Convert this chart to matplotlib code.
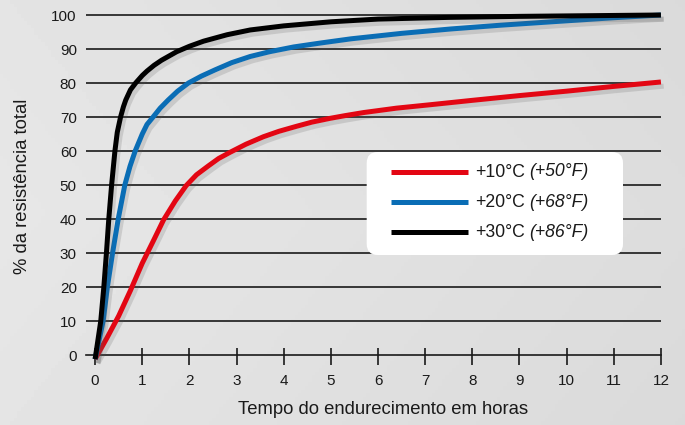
import matplotlib
matplotlib.use("Agg")
import matplotlib.pyplot as plt
import matplotlib.patheffects as pe
from matplotlib.patches import FancyBboxPatch
from matplotlib.lines import Line2D
import numpy as np

plt.rcParams['font.family'] = ['Liberation Sans', 'DejaVu Sans']

# ---- data ----
hours_10 = [0, 0.25, 0.5, 0.75, 1.0, 1.25, 1.45, 1.7, 1.93, 2.15, 2.4, 2.62, 2.86, 3.2, 3.57, 3.9, 4.28, 4.6, 4.98, 5.3, 5.69, 6.39, 7.1, 8.0, 9.0, 10.0, 11.0, 12.0]
res_10 = [-1.2, 5, 11.5, 19, 27, 34, 39.7, 45.3, 49.8, 53, 55.6, 57.8, 59.6, 62, 64.2, 65.8, 67.3, 68.5, 69.6, 70.4, 71.3, 72.6, 73.6, 74.9, 76.3, 77.6, 79.0, 80.3]

hours_20 = [0, 0.17, 0.26, 0.37, 0.49, 0.63, 0.74, 0.85, 1.0, 1.1, 1.23, 1.38, 1.55, 1.75, 1.98, 2.25, 2.55, 2.9, 3.29, 3.7, 4.21, 4.8, 5.43, 6.5, 7.55, 8.6, 9.68, 11.0, 12.0]
res_20 = [-1.2, 10, 20, 30, 40, 50, 55.5, 60, 65, 67.8, 70, 72.6, 75, 77.6, 80, 82, 83.9, 86, 87.8, 89.2, 90.6, 91.8, 93, 94.6, 95.9, 97, 98, 99.2, 100]

hours_30 = [0, 0.12, 0.185, 0.24, 0.29, 0.35, 0.42, 0.47, 0.54, 0.6, 0.65, 0.75, 0.86, 1.0, 1.1, 1.25, 1.41, 1.73, 2.0, 2.3, 2.8, 3.29, 4.0, 5.0, 6.0, 7.5, 9.0, 12.0]
res_30 = [-1.2, 10, 20, 30, 40, 50, 60, 65.5, 70, 73, 75, 78, 80, 82.2, 83.5, 85.2, 86.7, 89.2, 90.8, 92.3, 94.2, 95.6, 96.8, 98, 98.8, 99.3, 99.6, 100]

labels_c = ['+10°C', '+20°C', '+30°C']
labels_f = ['(+50°F)', '(+68°F)', '(+86°F)']
colors = ['#e30613', '#0a6db5', '#000000']

xticks = list(range(0, 13))
yticks = list(range(0, 101, 10))

# ---- figure ----
fig = plt.figure(figsize=(6.85, 4.25), dpi=100)
fig.patch.set_facecolor('#dedede')

# soft background shading
bg = fig.add_axes([0, 0, 1, 1], zorder=-10)
gx = np.linspace(0, 1, 200)
gy = np.linspace(0, 1, 120)
GX, GY = np.meshgrid(gx, gy)
shade = 0.905 - 0.04 * GX - 0.02 * np.abs(GY - 0.5)
bg.imshow(shade, cmap='gray', vmin=0, vmax=1, aspect='auto', extent=[0, 1, 0, 1])
bg.axis('off')

ax = fig.add_axes([0.1182, 0.1407, 0.8673, 0.84])
ax.patch.set_alpha(0)
ax.set_xlim(-0.3, 12.3)
ax.set_ylim(-3, 102)

for s in ['top', 'right', 'left']:
    ax.spines[s].set_visible(False)
ax.spines['bottom'].set_position(('data', 0))
ax.spines['bottom'].set_bounds(-0.2, 12)
ax.spines['bottom'].set_linewidth(1.2)
ax.spines['bottom'].set_color('#1a1a1a')

ax.hlines(yticks[1:], -0.2, 12, color='#1a1a1a', lw=1.2, zorder=1)
ax.vlines(xticks, -4.1, 2.0, color='#1a1a1a', lw=1.2, zorder=1)

ax.set_xticks(xticks)
ax.set_yticks(yticks)
ax.tick_params(axis='x', length=0, pad=13.5, labelsize=11, colors='#1a1a1a')
ax.tick_params(axis='y', length=0, pad=3, labelsize=11, colors='#1a1a1a')

shadow = [pe.SimpleLineShadow(offset=(2, -3), shadow_color='#555555', alpha=0.18, rho=1), pe.Normal()]
series = [(hours_10, res_10), (hours_20, res_20), (hours_30, res_30)]
for (hx, hy), c in zip(series, colors):
    ax.plot(hx, hy, color=c, lw=3.6, solid_joinstyle='round', solid_capstyle='butt',
            path_effects=shadow, zorder=3)

ax.set_xlabel('Tempo do endurecimento em horas', fontsize=13.3, color='#1a1a1a')
ax.xaxis.set_label_coords(0.508, -0.10)
ax.set_ylabel('% da resistência total', fontsize=13.3, color='#1a1a1a')
ax.yaxis.set_label_coords(-0.084, 0.5)

# ---- legend (rounded white box) ----
T = fig.dpi_scale_trans  # inches
box = FancyBboxPatch((3.667, 1.70), 2.563, 1.03, boxstyle='round,pad=0,rounding_size=0.11',
                     transform=T, facecolor='white', edgecolor='none', zorder=5)
fig.add_artist(box)
row_y = [2.53, 2.227, 1.927]
for c, lc, lf, yy in zip(colors, labels_c, labels_f, row_y):
    fig.add_artist(Line2D([3.907, 4.677], [yy, yy], transform=T, color=c, lw=3.6,
                          solid_capstyle='butt', zorder=6))
    t1 = fig.text(4.75, yy, lc, transform=T, fontsize=12.7, va='center', ha='left',
                  color='#1a1a1a', zorder=6)
    ann = ax.annotate(lf, xy=(1, 0.5), xycoords=t1, xytext=(3.3, 0), textcoords='offset points',
                      va='center', ha='left', fontsize=12.7, style='italic', color='#1a1a1a',
                      annotation_clip=False)
    ann.set_zorder(6)
    ann.remove()
    fig.add_artist(ann)

fig.savefig('out.png', dpi=100)
